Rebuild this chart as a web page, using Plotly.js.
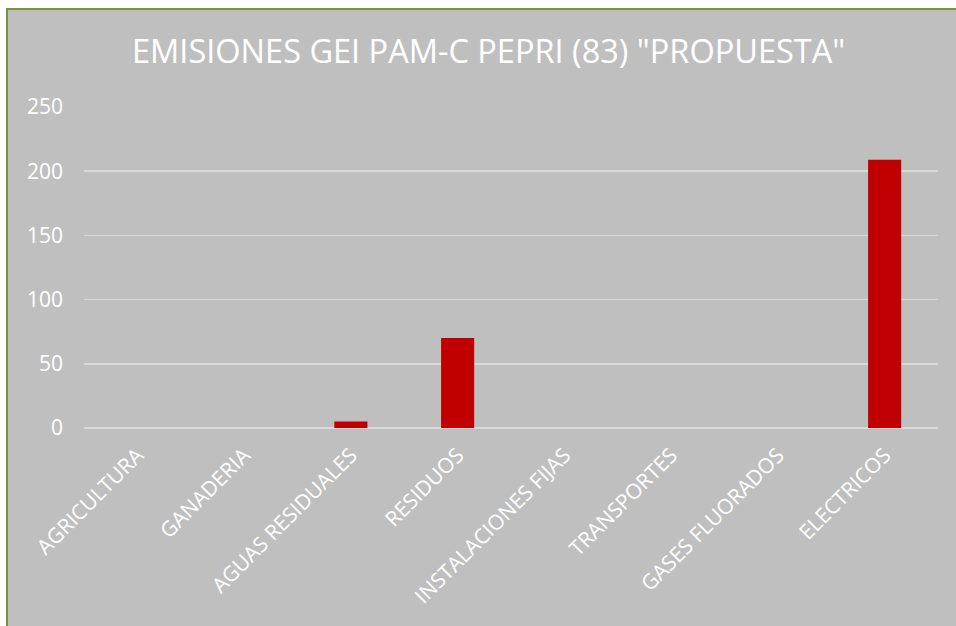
<!DOCTYPE html>
<html>
<head>
<meta charset="utf-8">
<script src="https://cdn.plot.ly/plotly-3.0.1.min.js"></script>
<style>
  html, body { margin: 0; padding: 0; background: #ffffff; width: 956px; height: 626px; overflow: hidden; }
  #wrap { position: absolute; left: 6px; top: 8px; width: 948px; height: 616px;
          border-left: 2px solid #76933c; border-top: 2px solid #76933c; background: #bfbfbf; }
  #chart { width: 948px; height: 616px; }
</style>
</head>
<body>
<div id="wrap"><div id="chart"></div></div>
<script>
const categories = ["AGRICULTURA", "GANADERIA", "AGUAS RESIDUALES", "RESIDUOS",
                    "INSTALACIONES FIJAS", "TRANSPORTES", "GASES FLUORADOS", "ELECTRICOS"];
const values = [0, 0, 5, 70, 0, 0, 0, 209];
const yTicks = [0, 50, 100, 150, 200, 250];
const chartTitle = 'EMISIONES GEI PAM-C PEPRI (83) "PROPUESTA"';

const trace = {
  type: "bar",
  x: categories,
  y: values,
  width: 0.31,
  marker: { color: "#c00000", line: { width: 0 } },
  hoverinfo: "x+y"
};

const layout = {
  width: 948,
  height: 616,
  margin: { l: 76, r: 18, t: 97, b: 198 },
  paper_bgcolor: "#bfbfbf",
  plot_bgcolor: "#bfbfbf",
  font: { family: "Open Sans, sans-serif", color: "#ffffff" },
  title: {
    text: chartTitle,
    font: { size: 32.5, color: "#ffffff", family: "Open Sans, sans-serif" },
    x: 0.507, xanchor: "center", xref: "container",
    y: 0.933, yanchor: "middle", yref: "container"
  },
  showlegend: false,
  xaxis: {
    type: "category",
    tickangle: -45,
    tickfont: { size: 21, color: "#ffffff" },
    showgrid: false,
    showline: false,
    ticks: "",
    ticklabelstandoff: 10,
    fixedrange: true
  },
  yaxis: {
    range: [0, 250],
    tickvals: yTicks,
    ticktext: yTicks.map(String),
    tickfont: { size: 21, color: "#ffffff" },
    showgrid: true,
    gridcolor: "#d9d9d9",
    gridwidth: 1.5,
    zeroline: true,
    zerolinecolor: "#d9d9d9",
    zerolinewidth: 1.5,
    showline: false,
    ticks: "",
    ticklabelstandoff: 20,
    fixedrange: true
  }
};

Plotly.newPlot("chart", [trace], layout, { displayModeBar: false, staticPlot: true });
</script>
</body>
</html>
